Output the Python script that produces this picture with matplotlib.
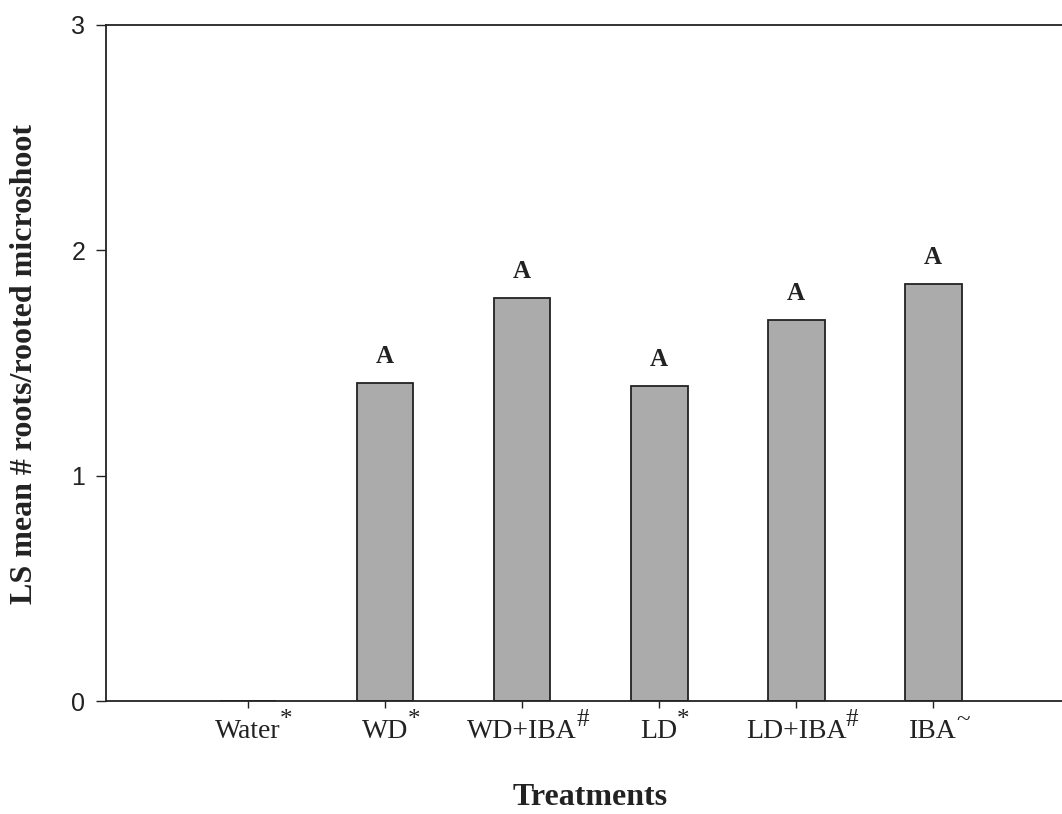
import matplotlib
matplotlib.use("Agg")
import matplotlib.pyplot as plt

# data
treatments = ["Water", "WD", "WD+IBA", "LD", "LD+IBA", "IBA"]
marks = ["*", "*", "#", "*", "#", "~"]
ls_means = [0.0, 1.41, 1.79, 1.40, 1.69, 1.85]
groups = ["", "A", "A", "A", "A", "A"]
yticks = [0, 1, 2, 3]

INK = "#222222"
SERIF = "Liberation Serif"

fig = plt.figure(figsize=(10.62, 8.14), dpi=100)
ax = fig.add_axes([0.0998, 0.1388, 0.9002, 0.8305])

x = list(range(len(treatments)))
ax.bar(x, ls_means, width=0.415, color="#ababab", edgecolor=INK, linewidth=1.3)

for xi, val, g in zip(x, ls_means, groups):
    if g:
        ax.annotate(g, (xi, val), xytext=(0, 19), textcoords="offset points",
                    ha="center", va="center", fontsize=18, fontweight="bold",
                    family=SERIF, color=INK)

ax.set_xlim(-1.036, 5.94)
ax.set_ylim(0, 3)
ax.set_yticks(yticks)
ax.set_yticklabels([str(v) for v in yticks], family="Liberation Sans", fontsize=18)
ax.set_xticks(x)
ax.set_xticklabels(treatments, family=SERIF, fontsize=20)

ax.tick_params(axis="y", direction="out", length=7, width=1, pad=8, colors=INK)
ax.tick_params(axis="x", direction="out", length=5, width=1, pad=8, colors=INK)

ax.spines["right"].set_visible(False)
for s in ("left", "top", "bottom"):
    ax.spines[s].set_linewidth(1.3)
    ax.spines[s].set_color(INK)

# superscript marks hang off the right of each tick label
fig.canvas.draw()
for lab, m in zip(ax.get_xticklabels(), marks):
    ax.annotate(m, xy=(1, 1), xycoords=lab, xytext=(-0.5, 7), textcoords="offset points",
                ha="left", va="top", fontsize=18, family=SERIF, color=INK,
                annotation_clip=False)

fig.text(0.0235, 0.553, "LS mean # roots/rooted microshoot", rotation=90,
         ha="center", va="center", fontsize=23, fontweight="bold",
         family=SERIF, color=INK)
fig.text(0.556, 0.02, "Treatments", ha="center", va="center", fontsize=23,
         fontweight="bold", family=SERIF, color=INK)

fig.savefig("out.png", dpi=100)
